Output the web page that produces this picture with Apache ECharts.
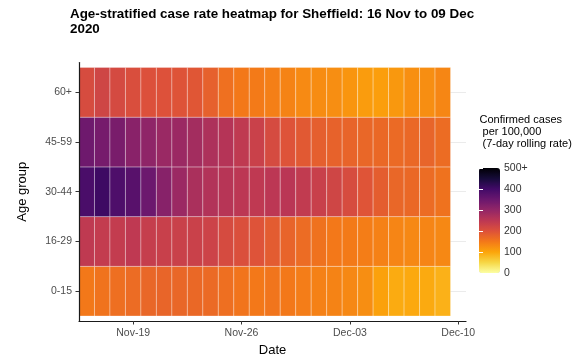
<!DOCTYPE html>
<html><head><meta charset="utf-8">
<script src="https://cdn.jsdelivr.net/npm/echarts@6/dist/echarts.min.js"></script>
<style>html,body{margin:0;padding:0;background:#fff}#chart{width:586px;height:362px}</style>
</head><body><div id="chart"></div>
<script>
const dates = ['2020-11-16','2020-11-17','2020-11-18','2020-11-19','2020-11-20','2020-11-21',
  '2020-11-22','2020-11-23','2020-11-24','2020-11-25','2020-11-26','2020-11-27','2020-11-28',
  '2020-11-29','2020-11-30','2020-12-01','2020-12-02','2020-12-03','2020-12-04','2020-12-05',
  '2020-12-06','2020-12-07','2020-12-08','2020-12-09'];
const ageGroups = ['0-15','16-29','30-44','45-59','60+'];
const rate_0_15  = [150,156,162,166,172,174,172,170,168,162,155,150,154,150,145,140,138,132,126,104,94,96,95,88];
const rate_16_29 = [245,240,240,246,236,232,230,230,226,212,204,198,186,176,166,158,150,148,144,140,136,132,136,132];
const rate_30_44 = [390,405,385,372,348,315,290,272,262,256,250,246,250,252,242,232,222,210,196,184,172,170,166,158];
const rate_45_59 = [345,335,332,312,305,292,290,280,268,258,245,230,212,198,190,182,178,176,172,170,168,170,175,165];
const rate_60p   = [210,222,214,206,202,200,197,193,180,160,150,148,142,138,130,128,126,118,110,108,114,124,126,134];
const tickDates = ['2020-11-19','2020-11-26','2020-12-03','2020-12-10'];
const tickLabels = ['Nov-19','Nov-26','Dec-03','Dec-10'];
const legendTicks = [0,100,200,300,400,500];
const legendLabels = ['0','100','200','300','400','500+'];

const rows = [rate_0_15, rate_16_29, rate_30_44, rate_45_59, rate_60p];
const day0 = Date.parse(dates[0]);
const dayOf = d => Math.round((Date.parse(d) - day0) / 864e5);
const tickDays = tickDates.map(dayOf);
const ageTicks = ageGroups.map((g, i) => i + 1);
const data = [];
rows.forEach((vals, r) => vals.forEach((v, i) => data.push([dayOf(dates[i]), r + 1, v])));
const inferno = ['#000004','#160b39','#420a68','#6a176e','#932667','#bc3754','#dd513a','#f37819','#fca50a','#f6d746','#fcffa4'];
const FF = 'Liberation Sans, Arial, sans-serif';

const chart = echarts.init(document.getElementById('chart'), null, {renderer: 'canvas'});
chart.setOption({
  animation: false,
  textStyle: {fontFamily: FF},
  title: [{
    text: 'Age-stratified case rate heatmap for Sheffield: 16 Nov to 09 Dec\n2020',
    left: 70, top: 7, padding: 0,
    textStyle: {fontFamily: FF, fontWeight: 'bold', fontSize: 13.4, lineHeight: 15, color: '#000'}
  }, {
    text: 'Confirmed cases\n per 100,000\n (7-day rolling rate)',
    left: 479.5, top: 114.5, padding: 0,
    textStyle: {fontFamily: FF, fontWeight: 'normal', fontSize: 11, lineHeight: 11.7, color: '#000'}
  }],
  grid: [
    {left: 79, top: 62.5, width: 387, height: 260, containLabel: false},
    {left: 479, top: 168, width: 21, height: 105, containLabel: false}
  ],
  xAxis: [{
    type: 'value', gridIndex: 0, min: -0.5, max: 24.5, z: 5,
    axisLine: {show: true, onZero: false, lineStyle: {color: '#1a1a1a', width: 1.2}},
    axisTick: {show: true, customValues: tickDays, length: 3.5, lineStyle: {color: '#333'}},
    axisLabel: {show: true, customValues: tickDays, formatter: v => tickLabels[tickDays.indexOf(v)],
      color: '#4d4d4d', fontSize: 10.5, margin: 7, fontFamily: FF},
    splitLine: {show: false},
    name: 'Date', nameLocation: 'middle', nameGap: 23,
    nameTextStyle: {color: '#000', fontSize: 13, fontFamily: FF}
  }, {
    type: 'value', gridIndex: 1, show: false, min: 0, max: 1
  }],
  yAxis: [{
    type: 'value', gridIndex: 0, min: 0.4, max: 5.6, z: 5,
    axisLine: {show: true, onZero: false, lineStyle: {color: '#1a1a1a', width: 1.2}},
    axisTick: {show: true, customValues: ageTicks, length: 3.5, lineStyle: {color: '#333'}},
    axisLabel: {show: true, customValues: ageTicks, formatter: v => ageGroups[v - 1],
      color: '#4d4d4d', fontSize: 10.5, margin: 7, fontFamily: FF},
    splitLine: {show: false},
    name: 'Age group', nameLocation: 'middle', nameGap: 50, nameRotate: 90,
    nameTextStyle: {color: '#000', fontSize: 13, fontFamily: FF}
  }, {
    type: 'value', gridIndex: 1, min: 0, max: 500, interval: 100, position: 'right', z: 10,
    axisLine: {show: false},
    axisTick: {show: true, inside: true, length: 4, lineStyle: {color: '#fff', width: 1}},
    axisLabel: {show: true, margin: 4, color: '#333', fontSize: 10.5, fontFamily: FF,
      formatter: v => legendLabels[legendTicks.indexOf(v)]},
    splitLine: {show: false}
  }, {
    type: 'value', gridIndex: 1, min: 0, max: 500, interval: 100, position: 'left', z: 10,
    axisLine: {show: false},
    axisTick: {show: true, inside: true, length: 4, lineStyle: {color: '#fff', width: 1}},
    axisLabel: {show: false},
    splitLine: {show: false}
  }, {
    type: 'value', gridIndex: 0, min: 0.4, max: 5.6, z: 0,
    axisLine: {show: false}, axisLabel: {show: false},
    axisTick: {show: false, customValues: ageTicks},
    splitLine: {show: true, lineStyle: {color: '#ebebeb', width: 1}}
  }],
  visualMap: {
    type: 'continuous', min: 0, max: 500, dimension: 2, seriesIndex: 0,
    calculable: false, text: null, showLabel: false,
    left: 479, top: 168, itemWidth: 21, itemHeight: 105, padding: 0,
    inRange: {color: inferno.slice().reverse()}
  },
  series: [{
    type: 'custom', xAxisIndex: 0, yAxisIndex: 0, data: data,
    encode: {x: 0, y: 1},
    renderItem: function (params, api) {
      const x = api.value(0), y = api.value(1);
      const p0 = api.coord([x - 0.5, y + 0.5]);
      const p1 = api.coord([x + 0.5, y - 0.5]);
      return {type: 'rect',
        shape: {x: p0[0], y: p0[1], width: p1[0] - p0[0], height: p1[1] - p0[1]},
        style: {fill: api.visual('color'), stroke: 'rgba(255,255,255,0.3)', lineWidth: 1}};
    }
  }]
});
</script>
</body></html>
